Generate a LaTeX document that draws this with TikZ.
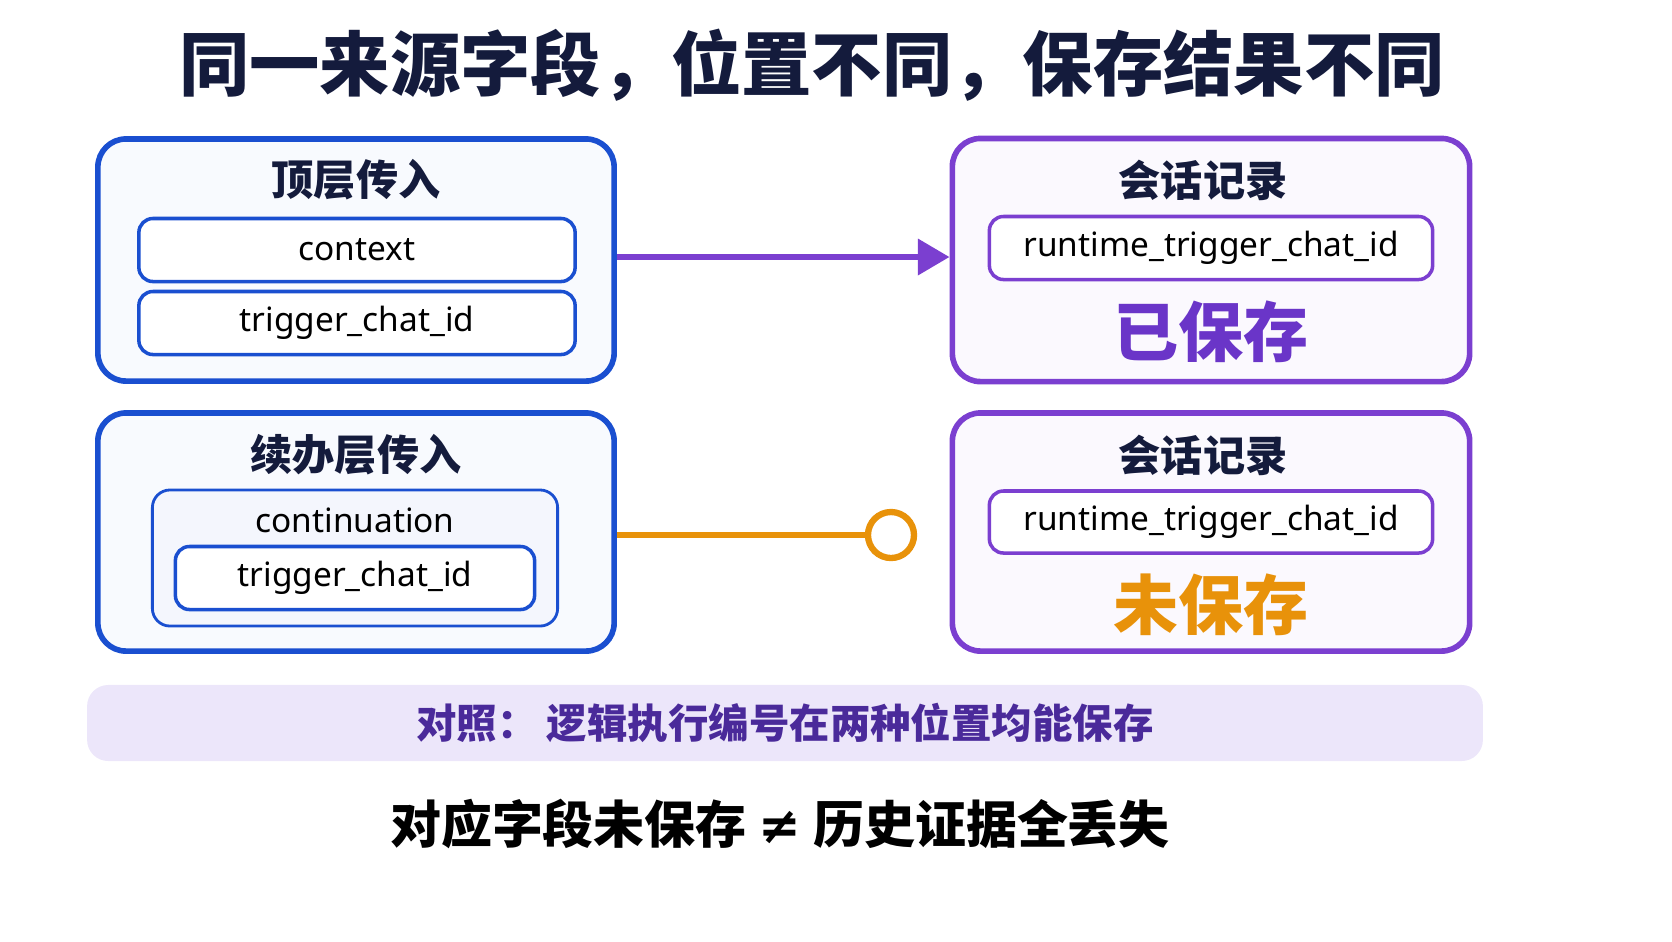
\documentclass[tikz,border=0pt]{standalone}
\usepackage{fontspec}
\setmainfont{Noto Sans}
\newfontfamily\cjk{Noto Sans CJK SC}
\usetikzlibrary{positioning,arrows.meta}
\definecolor{navy}{HTML}{141B3C}
\definecolor{inblue}{HTML}{1A4FD0}
\definecolor{purp}{HTML}{7B3FD0}
\definecolor{savedc}{HTML}{6A35C8}
\definecolor{orangec}{HTML}{E8920A}
\definecolor{bandc}{HTML}{ECE6FA}
\definecolor{bandtxt}{HTML}{4A2A9A}
\begin{document}
\begin{tikzpicture}[x=0.01cm,y=-0.01cm,
  panel/.style={draw=#1,rounded corners=8pt,line width=1.6pt,fill=#1!3,inner sep=0pt},
  field/.style={draw=#1,rounded corners=4pt,line width=1pt,fill=white,inner sep=0pt,
                font=\fontsize{9.5pt}{11pt}\selectfont,text=black},
  heading/.style={font=\cjk\bfseries\fontsize{12pt}{14pt}\selectfont,text=navy}
]
\useasboundingbox (0,0) rectangle (1672,941);
% title
\node[font=\cjk\bfseries\fontsize{20pt}{24pt}\selectfont,text=navy] (title) at (812,65)
  {同一来源字段，位置不同，保存结果不同};
% left panels
\node[panel=inblue,minimum width=5.16cm,minimum height=2.42cm] (top) at (356,260) {};
\node[heading] (topname) at (356,180) {顶层传入};
\node[field=inblue,minimum width=4.36cm,minimum height=0.63cm] (ctx) at (357,250) {context};
\node[field=inblue,minimum width=4.36cm,minimum height=0.63cm] (tcid) at (357,323) {trigger\_chat\_id};
\node[panel=inblue,minimum width=5.16cm,minimum height=2.38cm] (cont) at (356,532) {};
\node[heading] (contname) at (356,455) {续办层传入};
\node[draw=inblue,rounded corners=5pt,line width=0.8pt,fill=inblue!5,
      minimum width=4.05cm,minimum height=1.36cm] (contbox) at (355,558) {};
\node[font=\fontsize{9.5pt}{11pt}\selectfont] (contlbl) at (355,520) {continuation};
\node[field=inblue,minimum width=3.59cm,minimum height=0.63cm] (ctcid) at (355,578) {trigger\_chat\_id};
% right panels
\node[panel=purp,minimum width=5.17cm,minimum height=2.43cm] (rec1) at (1211,260) {};
\node[heading] (rec1name) at (1203,180) {会话记录};
\node[field=purp,minimum width=4.43cm,minimum height=0.63cm] (rt1) at (1211,248) {runtime\_trigger\_chat\_id};
\node[font=\cjk\bfseries\fontsize{18.5pt}{20pt}\selectfont,text=savedc] (saved) at (1211,332) {已保存};
\node[panel=purp,minimum width=5.17cm,minimum height=2.38cm] (rec2) at (1211,532) {};
\node[heading] (rec2name) at (1203,455) {会话记录};
\node[field=purp,minimum width=4.43cm,minimum height=0.62cm] (rt2) at (1211,522) {runtime\_trigger\_chat\_id};
\node[font=\cjk\bfseries\fontsize{18.5pt}{20pt}\selectfont,text=orangec] (unsaved) at (1211,605) {未保存};
% connectors
\coordinate (a1) at (top.east |- 0,257);
\coordinate (a2) at (rec1.west |- 0,257);
\draw[purp,line width=1.8pt,-{Triangle[length=9pt,width=10pt]}] (a1) -- (a2);
\node[circle,draw=orangec,line width=1.8pt,fill=white,minimum size=0.46cm,inner sep=0pt] (stop) at (891,535) {};
\coordinate (b1) at (cont.east |- stop);
\draw[orangec,line width=1.8pt] (b1) -- (stop);
% band
\node[fill=bandc,rounded corners=6pt,minimum width=13.95cm,minimum height=0.76cm] (band) at (785,723) {};
\node[font=\cjk\bfseries\fontsize{11.5pt}{13pt}\selectfont,text=bandtxt] (bandtxt) at (785,723)
  {对照：\ 逻辑执行编号在两种位置均能保存};
% footer
\node[font=\cjk\bfseries\fontsize{14.5pt}{17pt}\selectfont,text=black] (foot) at (780,824)
  {对应字段未保存\ {\bfseries\fontspec{DejaVu Sans}≠}\ 历史证据全丢失};
\end{tikzpicture}
\end{document}
